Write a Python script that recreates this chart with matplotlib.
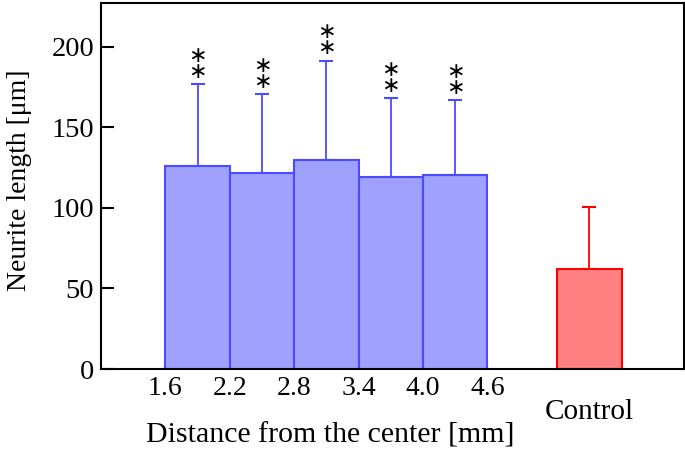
import matplotlib.pyplot as plt
import matplotlib.transforms as mtransforms
import numpy as np

plt.rcParams['font.family'] = ['Liberation Serif', 'DejaVu Serif']

# dane
edges = [1.6, 2.2, 2.8, 3.4, 4.0, 4.6]
means = [125.7, 121.4, 129.4, 118.9, 120.1]
err_top = [176.5, 170.3, 191.3, 167.8, 166.6]
control_label = 'Control'
control_pos = 5.55
control_mean = 61.9
control_top = 100.3

fig = plt.figure(figsize=(6.85, 4.51), dpi=100)
ax = fig.add_axes([0.1474, 0.1818, 0.8511, 0.8115])

left = np.array(edges[:-1])
width = np.diff(edges)
centers = left + width / 2
errs = np.array(err_top) - np.array(means)

ax.bar(left, means, width=width, align='edge', color='#a0a0ff', edgecolor='#4b4bff', linewidth=1.5, zorder=2)
ax.errorbar(centers, means, yerr=[np.zeros(len(errs)), errs], fmt='none', ecolor='#4b4bff',
            elinewidth=1.3, capsize=5, capthick=1.5, zorder=1)
# gwiazdki istotnosci nad slupkami bledow
for x, top in zip(centers, err_top):
    ax.annotate('∗\n∗', (x, top), xytext=(0, 2), textcoords='offset points',
                ha='center', va='bottom', fontsize=16, linespacing=0.75, family=['DejaVu Sans'])

ax.bar(control_pos, control_mean, width=0.6, color='#ff8080', edgecolor='red', linewidth=1.5, zorder=2)
ax.errorbar(control_pos, control_mean, yerr=[[0], [control_top - control_mean]], fmt='none',
            ecolor='red', elinewidth=1.3, capsize=5, capthick=1.5, zorder=1)

ax.set_xlim(1.0, 6.43)
ax.set_ylim(0, 227)
ax.set_yticks([0, 50, 100, 150, 200])
ax.set_xticks(edges + [control_pos])
ax.set_xticklabels([f'{e:.1f}' for e in edges] + [''])
ax.tick_params(direction='in', length=9, width=1.5)
ax.tick_params(axis='y', pad=5, labelsize=20.5)
ax.tick_params(axis='x', length=3, pad=5, labelsize=20)
for s in ax.spines.values():
    s.set_linewidth(1.5)

trans = mtransforms.blended_transform_factory(ax.transData, ax.transAxes)
ax.text(control_pos, -0.117, control_label, transform=trans, ha='center', va='center', fontsize=21)

ax.set_ylabel('Neurite length [μm]', fontsize=20, va='center')
ax.yaxis.set_label_coords(-0.140, 0.517)
ax.set_xlabel('Distance from the center [mm]', fontsize=21.5, va='center')
ax.xaxis.set_label_coords(0.393, -0.183)

fig.savefig('out.png', dpi=100)
